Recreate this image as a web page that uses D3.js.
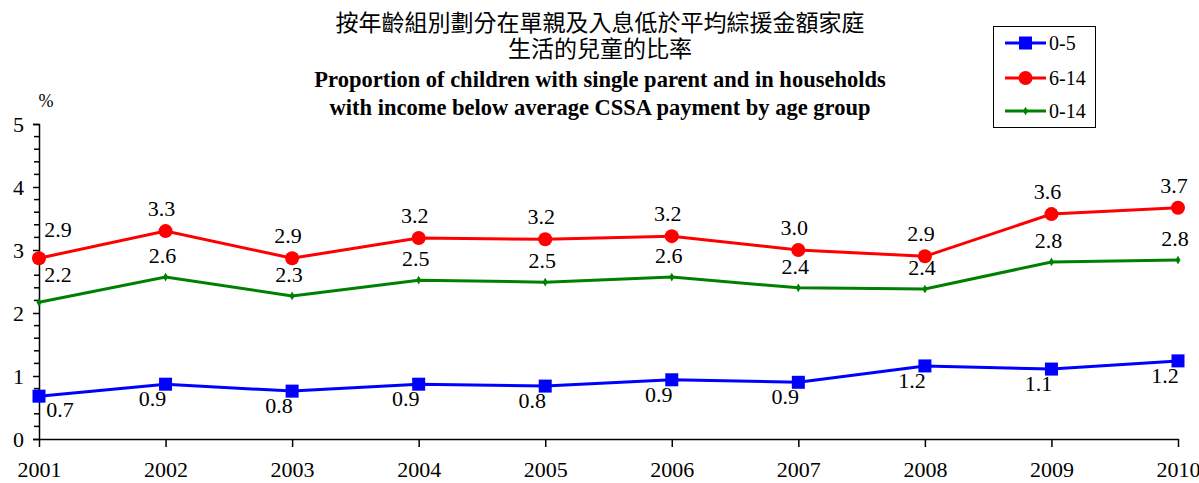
<!DOCTYPE html>
<html><head><meta charset="utf-8">
<script src="https://cdn.jsdelivr.net/npm/d3@7"></script>
<style>body{margin:0;background:#fff}svg{display:block}</style>
</head><body><svg id="c" width="1199" height="483"></svg>
<script>
const years = ["2001","2002","2003","2004","2005","2006","2007","2008","2009","2010"];
const s05 = [0.68,0.87,0.76,0.87,0.84,0.94,0.90,1.16,1.11,1.24];
const s614 = [2.87,3.30,2.87,3.19,3.17,3.22,3.00,2.90,3.57,3.67];
const s014 = [2.17,2.57,2.27,2.52,2.49,2.57,2.40,2.38,2.81,2.84];
const lab05 = ["0.7","0.9","0.8","0.9","0.8","0.9","0.9","1.2","1.1","1.2"];
const lab614 = ["2.9","3.3","2.9","3.2","3.2","3.2","3.0","2.9","3.6","3.7"];
const lab014 = ["2.2","2.6","2.3","2.5","2.5","2.6","2.4","2.4","2.8","2.8"];
const yTicks = [0,1,2,3,4,5];
const titleLines = ["按年齡組別劃分在單親及入息低於平均綜援金額家庭","生活的兒童的比率","Proportion of children with single parent and in households","with income below average CSSA payment by age group"];
const legendNames = ["0-5","6-14","0-14"];

const svg = d3.select("#c");
const SERIF = "Liberation Serif";
const CJK = "Noto Sans CJK TC";
const FS = 22;
const x = d3.scalePoint().domain(years).range([39,1178]);
const y = d3.scaleLinear().domain([0,5]).range([439,124]);

// axes
const yAxis = d3.axisLeft(y).tickValues(yTicks).tickSize(6).tickPadding(9).tickFormat(d3.format("d"));
const gy = svg.append("g").attr("transform","translate(39,0)").call(yAxis);
gy.attr("font-family",SERIF).attr("font-size",FS);
const minor = d3.range(0,5.001,0.2).filter(v=>Math.abs(v-Math.round(v))>0.01);
gy.selectAll(".minor").data(minor).enter().append("line").attr("class","minor")
  .attr("x1",-5).attr("x2",0).attr("y1",d=>y(d)).attr("y2",d=>y(d)).attr("stroke","#000").attr("stroke-width",1.5);
gy.select(".domain").attr("stroke-width",1.5);
gy.selectAll(".tick line").attr("stroke-width",1.5);
gy.selectAll("text").attr("font-family",SERIF).attr("font-size",FS).attr("fill","#000");

const xAxis = d3.axisBottom(x).tickSize(8).tickSizeOuter(0).tickPadding(14);
const gx = svg.append("g").attr("transform","translate(0,439)").call(xAxis);
gx.attr("font-family",SERIF).attr("font-size",FS);
gx.select(".domain").attr("stroke-width",1.5);
gx.selectAll(".tick line").attr("stroke-width",1.5);
gx.selectAll("text").attr("font-family",SERIF).attr("font-size",FS).attr("fill","#000");

svg.append("text").attr("font-family",SERIF).attr("x",46).attr("y",107).attr("text-anchor","middle").attr("font-size",18).text("%");

// title
const tY = [31,57,87,115];
titleLines.forEach((t,i)=>{
  svg.append("text").attr("x",600).attr("y",tY[i]).attr("text-anchor","middle")
    .attr("font-family", i<2?CJK:SERIF).attr("font-weight", i<2?"normal":"bold")
    .attr("font-size", i<2?23:22.5).text(t);
});

const line = d3.line().x((d,i)=>x(years[i])).y(d=>y(d));
function drawSeries(vals,color,width){
  svg.append("path").datum(vals).attr("d",line).attr("fill","none").attr("stroke",color).attr("stroke-width",width);
}
drawSeries(s014,"#008000",3);
drawSeries(s614,"#ff0000",3);
drawSeries(s05,"#0000ff",3);

// markers
svg.selectAll(".m014").data(s014).enter().append("path")
  .attr("transform",(d,i)=>`translate(${x(years[i])},${y(d)})`)
  .attr("d",d3.symbol(d3.symbolDiamond,22)).attr("fill","#008000");
svg.selectAll(".m614").data(s614).enter().append("circle")
  .attr("cx",(d,i)=>x(years[i])).attr("cy",d=>y(d)).attr("r",7).attr("fill","#ff0000");
svg.selectAll(".m05").data(s05).enter().append("rect")
  .attr("x",(d,i)=>x(years[i])-6.5).attr("y",d=>y(d)-6.5).attr("width",13).attr("height",13).attr("fill","#0000ff");

// labels
function labels(vals,labs,dx,dy,fdx,fdy){
  svg.selectAll(null).data(vals).enter().append("text")
    .attr("x",(d,i)=>x(years[i]) + (i===0?fdx:dx))
    .attr("y",(d,i)=>y(d) + (i===0?fdy:dy))
    .attr("text-anchor","middle").attr("font-family",SERIF).attr("font-size",FS).attr("fill","#000")
    .text((d,i)=>labs[i]);
}
labels(s614,lab614,-4,-15,19,-21);
labels(s014,lab014,-3,-14,19,-20);
labels(s05,lab05,-13,22,21,21);

// legend
svg.append("rect").attr("x",993.5).attr("y",26.5).attr("width",102).attr("height",101).attr("fill","#fff").attr("stroke","#000").attr("stroke-width",1);
const ly = [43,78,111];
const cols = ["#0000ff","#ff0000","#008000"];
legendNames.forEach((n,i)=>{
  svg.append("line").attr("x1",1005).attr("x2",1046).attr("y1",ly[i]).attr("y2",ly[i]).attr("stroke",cols[i]).attr("stroke-width",3);
  if(i===0) svg.append("rect").attr("x",1019).attr("y",ly[i]-6.5).attr("width",13).attr("height",13).attr("fill",cols[i]);
  if(i===1) svg.append("circle").attr("cx",1025.5).attr("cy",ly[i]).attr("r",7).attr("fill",cols[i]);
  if(i===2) svg.append("path").attr("transform",`translate(1025.5,${ly[i]})`).attr("d",d3.symbol(d3.symbolDiamond,22)).attr("fill",cols[i]);
  svg.append("text").attr("font-family",SERIF).attr("x",1049).attr("y",ly[i]+7).attr("font-size",20).text(n);
});
</script></body></html>
